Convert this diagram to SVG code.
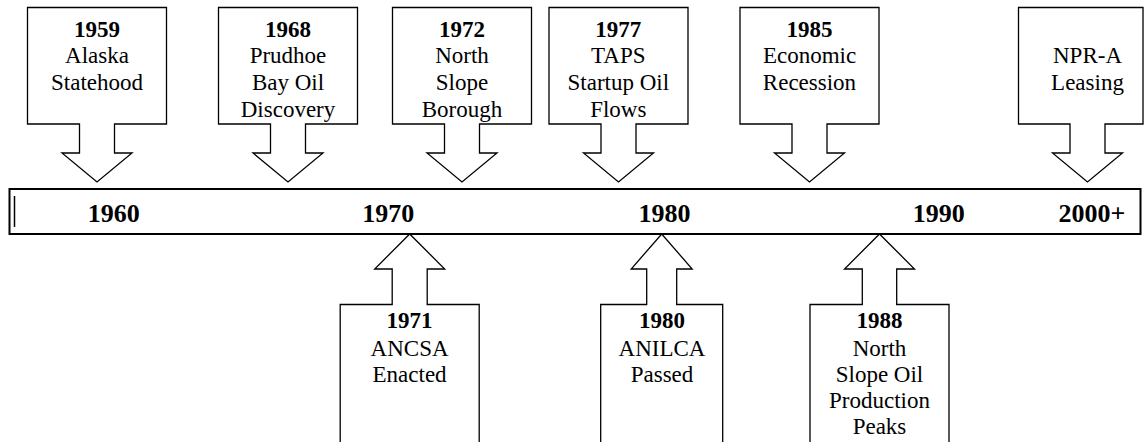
<svg xmlns="http://www.w3.org/2000/svg" width="1145" height="442" viewBox="0 0 1145 442">
<style>
.shape{fill:#fff;stroke:#000;stroke-width:1.3;stroke-linejoin:miter}
.bar{fill:#fff;stroke:#000;stroke-width:2}
text{font-family:"Liberation Serif","Times New Roman",serif;fill:#000;text-anchor:middle}
.t{font-size:23px}
.y{font-size:23px;font-weight:bold}
.d{font-size:26px;font-weight:bold}
</style>
<rect width="1145" height="442" fill="#fff"/>
<g id="connectors">
<g id="timeline">
<rect class="bar" x="9.5" y="189" width="1131" height="45"/>
<line x1="14.5" y1="196" x2="14.5" y2="227" stroke="#000" stroke-width="1.5"/>
<text class="d" x="113.7" y="222">1960</text>
<text class="d" x="388.3" y="222">1970</text>
<text class="d" x="664.5" y="222">1980</text>
<text class="d" x="938.8" y="222">1990</text>
<text class="d" x="1092" y="222">2000+</text>
</g>
</g>
<g id="e1959">
<path class="shape" d="M27.5,7.5 H166.5 V124 H114.5 V153 H132 L97,182 L62,153 H79.5 V124 H27.5 Z"/>
<text class="y" x="97" y="36.5">1959</text>
<text class="t" x="97" y="63.3">Alaska</text>
<text class="t" x="97" y="90">Statehood</text>
</g>
<g id="e1968">
<path class="shape" d="M218.5,7.5 H357.5 V124 H305.5 V153 H323 L288,182 L253,153 H270.5 V124 H218.5 Z"/>
<text class="y" x="288" y="36.5">1968</text>
<text class="t" x="288" y="63.3">Prudhoe</text>
<text class="t" x="288" y="90">Bay Oil</text>
<text class="t" x="288" y="116.7">Discovery</text>
</g>
<g id="e1972">
<path class="shape" d="M392.5,7.5 H531.5 V124 H479.5 V153 H497 L462,182 L427,153 H444.5 V124 H392.5 Z"/>
<text class="y" x="462" y="36.5">1972</text>
<text class="t" x="462" y="63.3">North</text>
<text class="t" x="462" y="90">Slope</text>
<text class="t" x="462" y="116.7">Borough</text>
</g>
<g id="e1977">
<path class="shape" d="M549,7.5 H688 V124 H636 V153 H653.5 L618.5,182 L583.5,153 H601 V124 H549 Z"/>
<text class="y" x="618.3" y="36.5">1977</text>
<text class="t" x="618.3" y="63.3">TAPS</text>
<text class="t" x="618.3" y="90">Startup Oil</text>
<text class="t" x="618.3" y="116.7">Flows</text>
</g>
<g id="e1985">
<path class="shape" d="M740,7.5 H879 V124 H827 V153 H844.5 L809.5,182 L774.5,153 H792 V124 H740 Z"/>
<text class="y" x="809.5" y="36.5">1985</text>
<text class="t" x="809.5" y="63.3">Economic</text>
<text class="t" x="809.5" y="90">Recession</text>
</g>
<g id="eNPRA">
<path class="shape" d="M1018.5,7.5 H1143 V124 H1105 V153 H1122.5 L1087.5,182 L1052.5,153 H1070 V124 H1018.5 Z"/>
<text class="t" x="1087.5" y="63.3">NPR-A</text>
<text class="t" x="1087.5" y="90">Leasing</text>
</g>
<g id="e1971">
<path class="shape" d="M340.2,444 V304.5 H392.2 V269 H374.7 L409.7,234 L444.7,269 H427.2 V304.5 H479.2 V444"/>
<text class="y" x="409.6" y="328.3">1971</text>
<text class="t" x="409.6" y="355.5">ANCSA</text>
<text class="t" x="409.6" y="382">Enacted</text>
</g>
<g id="e1980">
<path class="shape" d="M600.7,444 V304.5 H646.7 V269 H631.2 L661.7,234 L692.2,269 H676.7 V304.5 H722.7 V444"/>
<text class="y" x="662" y="328.3">1980</text>
<text class="t" x="662" y="355.5">ANILCA</text>
<text class="t" x="662" y="382">Passed</text>
</g>
<g id="e1988">
<path class="shape" d="M810,444 V304.5 H862.3 V269 H844.5 L879.5,234 L914.5,269 H896.7 V304.5 H949 V444"/>
<text class="y" x="879.5" y="328.3">1988</text>
<text class="t" x="879.5" y="355.5">North</text>
<text class="t" x="879.5" y="382">Slope Oil</text>
<text class="t" x="879.5" y="408">Production</text>
<text class="t" x="879.5" y="434">Peaks</text>
</g>
</svg>
